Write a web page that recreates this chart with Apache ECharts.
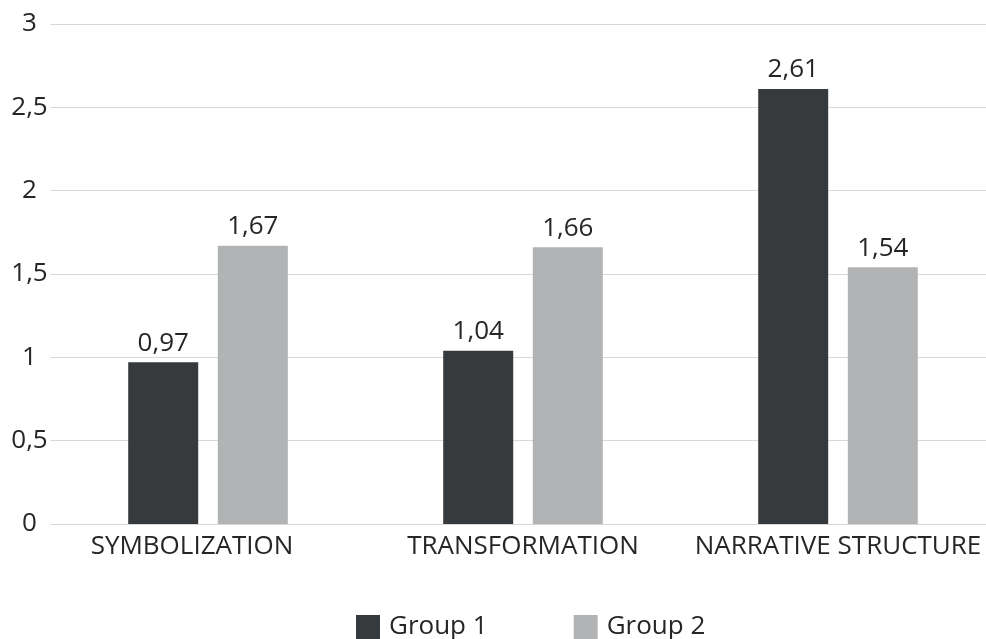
<!DOCTYPE html>
<html><head><meta charset="utf-8">
<script src="https://cdn.jsdelivr.net/npm/echarts@6/dist/echarts.min.js"></script>
<style>html,body{margin:0;padding:0;background:#fff;overflow:hidden}#c{width:1000px;height:639px}</style>
</head><body><div id="c"></div>
<script>
const categories = ['SYMBOLIZATION', 'TRANSFORMATION', 'NARRATIVE STRUCTURE'];
const group1 = [0.97, 1.04, 2.61];
const group2 = [1.67, 1.66, 1.54];
const seriesNames = ['Group 1', 'Group 2'];
const yTicks = [0, 0.5, 1, 1.5, 2, 2.5, 3];

const FONT = 'Open Sans';
const FS = 26;
const TXT = '#262626';
const fmt = v => String(v).replace('.', ',');

const chart = echarts.init(document.getElementById('c'));
chart.setOption({
  animation: false,
  textStyle: { fontFamily: FONT },
  grid: { left: 50.5, width: 945, top: 24, bottom: 115, containLabel: false },
  legend: {
    top: 609, left: 351,
    itemWidth: 24, itemHeight: 24, itemGap: 86,
    icon: 'rect',
    textStyle: { fontFamily: FONT, fontSize: FS, color: TXT, padding: [0,0,0,4] },
    data: seriesNames
  },
  xAxis: {
    type: 'category',
    data: categories.map((c, i) => i === 0 ? { value: c, textStyle: { padding: [0, 32, 0, 0] } } : c),
    axisLine: { lineStyle: { color: '#d9d9d9', width: 1 } },
    axisTick: { show: false },
    axisLabel: { fontFamily: FONT, fontSize: FS, color: TXT, margin: 10, interval: 0 }
  },
  yAxis: {
    type: 'value', min: 0, max: 3, interval: 0.5,
    axisLine: { show: false }, axisTick: { show: false },
    splitLine: { lineStyle: { color: '#d9d9d9', width: 1 } },
    axisLabel: { fontFamily: FONT, fontSize: FS, color: TXT, margin: 21, align: 'center',
      padding: [0, 0, 8, 0],
      formatter: v => yTicks.includes(v) ? fmt(v) : '' }
  },
  series: [
    { name: seriesNames[0], type: 'bar', data: group1, barWidth: 70, barGap: '28%',
      itemStyle: { color: '#373a3d' },
      label: { show: true, position: 'top', distance: 6, fontFamily: FONT, fontSize: FS, color: TXT, formatter: p => fmt(p.value) } },
    { name: seriesNames[1], type: 'bar', data: group2, barWidth: 70,
      itemStyle: { color: '#b1b3b4' },
      label: { show: true, position: 'top', distance: 6, fontFamily: FONT, fontSize: FS, color: TXT, formatter: p => fmt(p.value) } }
  ]
});
</script></body></html>
